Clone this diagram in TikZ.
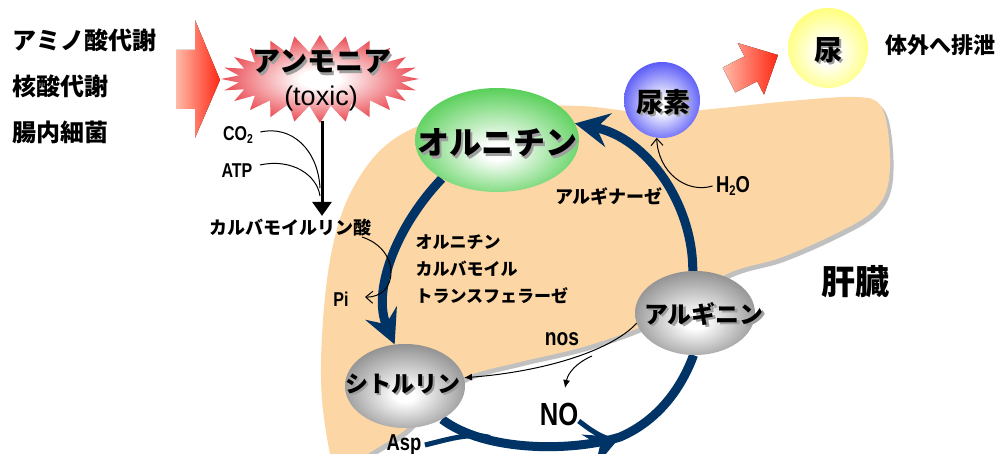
\documentclass[tikz,border=0pt]{standalone}
\usepackage{fontspec}
\newfontfamily\jp{Noto Sans CJK JP Black}
\newfontfamily\latn{Liberation Sans}[FakeStretch=0.8]
\newfontfamily\arialfont{Liberation Sans}
\usetikzlibrary{shapes.symbols,shapes.geometric,arrows.meta,decorations.markings,calc}

\definecolor{navy}{RGB}{0,51,102}
\definecolor{liverfill}{RGB}{252,214,164}
\definecolor{livershade}{RGB}{192,192,192}
\definecolor{burstred}{RGB}{228,28,38}
\definecolor{ballgreen}{RGB}{45,195,45}
\definecolor{ballblue}{RGB}{40,40,245}
\definecolor{ballyellow}{RGB}{255,255,80}
\definecolor{ballgray}{RGB}{108,108,108}
\definecolor{arrowpale}{RGB}{255,186,168}
\definecolor{arrowred}{RGB}{255,40,20}

% radial glows: white core fading to the rim colour
\pgfdeclareradialshading{glowred}{\pgfpoint{0bp}{0bp}}{color(0bp)=(white); color(5bp)=(white); color(30bp)=(burstred); color(50bp)=(burstred)}
\pgfdeclareradialshading{glowgreen}{\pgfpoint{0bp}{-6bp}}{color(0bp)=(white); color(4bp)=(white); color(34bp)=(ballgreen); color(50bp)=(ballgreen)}
\pgfdeclareradialshading{glowblue}{\pgfpoint{0bp}{-4bp}}{color(0bp)=(white); color(4bp)=(white); color(34bp)=(ballblue); color(50bp)=(ballblue)}
\pgfdeclareradialshading{glowyellow}{\pgfpoint{0bp}{-4bp}}{color(0bp)=(white); color(6bp)=(white); color(34bp)=(ballyellow); color(50bp)=(ballyellow)}
\pgfdeclareradialshading{glowgray}{\pgfpoint{0bp}{-6bp}}{color(0bp)=(white); color(4bp)=(white); color(36bp)=(ballgray); color(50bp)=(ballgray)}

% the liver and the cycle strokes sit beneath everything else
\pgfdeclarelayer{behind}
\pgfsetlayers{behind,main}

% heavy label with a soft offset shadow: name, position, font, text
\newcommand\shadowlabel[4]{%
  \node[text=black!38] (#1-sh) at ($(#2)+(2.2,2.2)$) {#3#4};
  \node (#1) at (#2) {#3#4};}

\tikzset{
  jpb/.style={font=\jp\fontsize{#1}{#1}\selectfont},
  lat/.style={font=\latn\bfseries\fontsize{#1}{#1}\selectfont},
  ball/.style={ellipse, inner sep=0pt, draw=none},
  cyc/.style={draw=navy, line width=9pt},
  cychead/.style={-{Stealth[length=34pt,width=34pt,inset=12pt]}},
  thinarrow/.style={line width=1pt},
}

\begin{document}
\begin{tikzpicture}[x=1pt,y=-1pt]
\useasboundingbox (0,0) rectangle (1002,454);
\clip (0,0) rectangle (1002,454);

% ---- liver outline with its grey drop shadow
\def\liverpath{plot[smooth cycle, tension=0.6] coordinates {
  (335,475) (322,400) (323,320) (333,245) (352,190) (385,146) (432,121)
  (500,107) (580,106) (640,112) (700,110) (790,101) (855,97) (880,105)
  (889,140) (888,185) (872,212) (835,234) (780,258) (725,275) (660,318)
  (590,345) (520,362) (468,376) (435,398) (405,430) (365,456) (345,475)}}
\begin{pgfonlayer}{behind}
  \begin{scope}[shift={(3.5,4)}]
    \fill[livershade] \liverpath;
  \end{scope}
  \fill[liverfill] \liverpath;
\end{pgfonlayer}

% ---- sources on the left
\node[jpb=24, anchor=west] (src1) at (9,40) {アミノ酸代謝};
\node[jpb=24, anchor=west] (src2) at (9,86) {核酸代謝};
\node[jpb=24, anchor=west] (src3) at (9,132) {腸内細菌};

\fill[left color=arrowpale, right color=arrowred]
  (176,50) -- (195,50) -- (195,20) -- (220,80) -- (195,138) -- (195,109) -- (176,109) -- cycle;

% ---- ammonia burst
\node[starburst, starburst points=24, starburst point height=17pt, random starburst=0,
      minimum width=198pt, minimum height=88pt, inner sep=0pt, shading=glowred] (burst) at (320,79) {};
\shadowlabel{amm}{322,62}{\jp\fontsize{28}{28}\selectfont}{アンモニア}
\node[font=\arialfont\fontsize{27}{27}\selectfont] (toxic) at (321,99) {(toxic)};

% ---- ammonia to carbamoyl phosphate
\coordinate (burstfoot) at (322,121);
\node[jpb=18] (carb) at (290,228) {カルバモイルリン酸};
\draw[line width=3pt, -{Triangle[length=14pt,width=19pt]}] (burstfoot) -- (burstfoot |- carb.north);
\node[lat=20] (co2) at (238,135) {CO\raisebox{-3pt}{\fontsize{13}{13}\selectfont 2}};
\node[lat=20] (atp) at (237,171) {ATP};
\coordinate (co2in) at (320,188);
\coordinate (atpin) at (320,196);
\draw[thinarrow] (co2.east) ++(4,-3) .. controls (292,125) and (318,150) .. (co2in);
\draw[thinarrow] (atp.east) ++(4,-6) .. controls (292,158) and (317,175) .. (atpin);

\node[lat=20] (pi) at (341,299) {Pi};
\coordinate (carbout) at (362,237);
\coordinate (piin) at (365,297);
\draw[thinarrow, -{Straight Barb[length=7pt,width=12pt]}] (carbout) .. controls (402,250) and (398,298) .. (piin);

% ---- urea cycle
\node[ball, minimum width=164pt, minimum height=104pt, shading=glowgreen] (orn) at (497,140) {};
\node[ball, minimum width=120pt, minimum height=84pt, shading=glowgray] (arg) at (695,313) {};
\node[ball, minimum width=120pt, minimum height=84pt, shading=glowgray] (cit) at (405,386) {};

\begin{pgfonlayer}{behind}
  \path[cyc, cychead] (orn.215) .. controls (395,228) and (372,292) .. (cit.104);
  \path[cyc, postaction={decorate},
        decoration={markings, mark=at position 0.62 with {\arrow[navy]{Stealth[length=34pt,width=34pt,inset=12pt]}}}]
    (cit.-42) .. controls (485,452) and (572,452) .. (620,437) .. controls (655,422) and (680,392) .. (arg.-92);
  \path[cyc, cychead] (arg.93) .. controls (693,205) and (648,138) .. (orn.12);
\end{pgfonlayer}

\shadowlabel{ornt}{497,143}{\jp\fontsize{32}{32}\selectfont}{オルニチン}
\shadowlabel{argt}{704,314}{\jp\fontsize{24}{24}\selectfont}{アルギニン}
\shadowlabel{citt}{403,384}{\jp\fontsize{23}{23}\selectfont}{シトルリン}

% enzyme labels
\node[anchor=north west, align=left, font=\jp\fontsize{17}{27}\selectfont] (otc) at (412,231)
  {オルニチン\\カルバモイル\\トランスフェラーゼ};
\node[jpb=18] (argz) at (609,196) {アルギナーゼ};

% ---- urea and its excretion
\node[circle, minimum size=76pt, inner sep=0pt, shading=glowblue] (urea) at (662,100) {};
\shadowlabel{ureat}{663,102}{\jp\fontsize{27}{27}\selectfont}{尿素}
\node[lat=23] (h2o) at (733,186) {H\raisebox{-3pt}{\fontsize{14}{14}\selectfont 2}O};
\draw[thinarrow, -{Straight Barb[length=7pt,width=12pt]}] (h2o.west) .. controls (686,194) and (658,172) .. (urea.-98);

\begin{scope}[shift={(753.5,67.5)}, rotate=27]
  \fill[left color=arrowpale, right color=arrowred]
    (-27.5,-14) -- (-3,-14) -- (-3,-29) -- (27.5,0) -- (-3,29) -- (-3,14) -- (-27.5,14) -- cycle;
\end{scope}

\node[circle, minimum size=80pt, inner sep=0pt, shading=glowyellow] (nyo) at (828,48) {};
\shadowlabel{nyot}{828,50}{\jp\fontsize{28}{28}\selectfont}{尿}
\node[jpb=22, anchor=west] (out) at (882,45) {体外へ排泄};

% ---- liver label
\node[jpb=34] (kanzo) at (855,282) {肝臓};

% ---- nitric oxide branch
\node[lat=24] (nos) at (562,339) {nos};
\node[lat=32] (no) at (559,414) {NO};
\coordinate (nosfork) at (592,356);
\coordinate (notip) at (565,388);
\draw[thinarrow, -{Latex[length=8pt,width=7pt]}] (arg.190) .. controls (610,352) and (540,372) .. (cit.8);
\draw[thinarrow, -{Latex[length=8pt,width=7pt]}] (nosfork) .. controls (576,363) and (568,373) .. (notip);
\draw[navy, line width=5pt] (no.east) ++(-3,7) .. controls (588,428) and (598,436) .. (612,440);

% ---- aspartate entry
\node[lat=23] (asp) at (404,445) {Asp};
\draw[navy, line width=5pt] (asp.east) ++(0,0) .. controls (446,440) and (470,432) .. (490,437.5);
\end{tikzpicture}
\end{document}
